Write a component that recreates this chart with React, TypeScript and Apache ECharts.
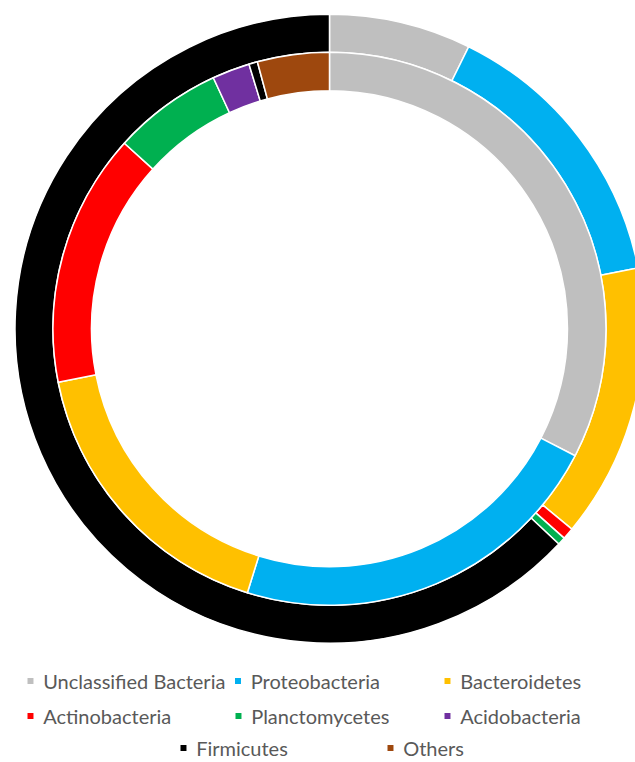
import React, { useEffect, useRef } from "react";
import * as echarts from "echarts";

const categories = [
  "Unclassified Bacteria",
  "Proteobacteria",
  "Bacteroidetes",
  "Actinobacteria",
  "Planctomycetes",
  "Acidobacteria",
  "Firmicutes",
  "Others",
];
const colors = ["#BFBFBF", "#00B0F0", "#FFC000", "#FF0000", "#00B050", "#7030A0", "#000000", "#9E480E"];
const outerValues = [7.3, 14.6, 14.1, 0.6, 0.4, 0, 63.0, 0];
const innerValues = [32.6, 22.2, 17.1, 14.8, 6.4, 2.2, 0.5, 4.2];

// legend layout: [left, centerY]
const legendPos: [number, number][] = [
  [25.5, 682],
  [233, 682],
  [442.5, 682],
  [25.5, 717],
  [233.5, 717],
  [442.5, 717],
  [178.5, 749],
  [385.5, 749],
];

const buildData = (vals: number[]) =>
  categories
    .map((name, i) => ({ name, value: vals[i], itemStyle: { color: colors[i] } }))
    .filter((d) => d.value > 0);

export default function App() {
  const ref = useRef<HTMLDivElement>(null);
  useEffect(() => {
    if (!ref.current) return;
    const chart = echarts.init(ref.current, null, { renderer: "svg" });
    const icon = "path://M0,0H15V15H0Z M21.95,7.45H22V7.5H21.95Z";
    chart.setOption({
      animation: false,
      backgroundColor: "#ffffff",
      legend: categories.map((name, i) => ({
        data: [name],
        left: legendPos[i][0],
        top: legendPos[i][1] - 11,
        padding: 0,
        icon,
        itemWidth: 11.7,
        itemHeight: 8,
        selectedMode: false,
        textStyle: { color: "#595959", fontFamily: "Lato", fontSize: 20 },
      })),
      series: [
        {
          type: "pie",
          name: "outer",
          center: [329.5, 328.7],
          radius: [276.5, 314.5],
          startAngle: 90,
          clockwise: true,
          avoidLabelOverlap: false,
          label: { show: false },
          labelLine: { show: false },
          emphasis: { disabled: true },
          itemStyle: { borderColor: "#ffffff", borderWidth: 1.5 },
          data: buildData(outerValues),
        },
        {
          type: "pie",
          name: "inner",
          center: [329.5, 328.7],
          radius: [238, 276.5],
          startAngle: 90,
          clockwise: true,
          avoidLabelOverlap: false,
          label: { show: false },
          labelLine: { show: false },
          emphasis: { disabled: true },
          itemStyle: { borderColor: "#ffffff", borderWidth: 1.5 },
          data: buildData(innerValues),
        },
      ],
    });
    return () => chart.dispose();
  }, []);
  return (
    <div
      ref={ref}
      style={{ position: "absolute", left: 0, top: 0, width: 635, height: 762 }}
    />
  );
}
